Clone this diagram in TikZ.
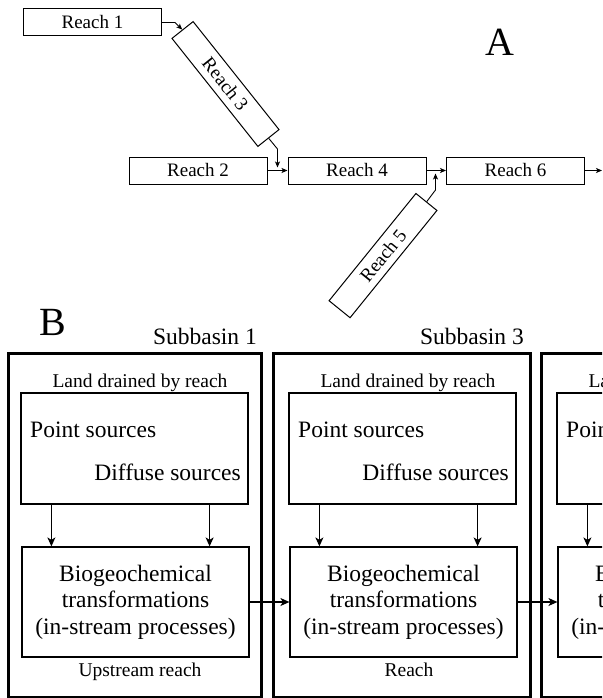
\documentclass[tikz,border=0pt]{standalone}
\usepackage{fontspec}
\setmainfont{Liberation Serif}
\usetikzlibrary{arrows.meta}
\begin{document}
\begin{tikzpicture}[x=1pt,y=-1pt,
  reachbox/.style={draw,line width=1pt,minimum width=138pt,minimum height=27pt,inner sep=0pt,font=\fontsize{19}{21}\selectfont},
  arrA/.style={line width=0.9pt,-{Stealth[length=6pt,width=5pt,inset=1.5pt]}},
  outerbox/.style={draw,line width=3pt,inner sep=0pt,minimum height=344pt},
  innerbox/.style={draw,line width=1.2pt,inner sep=0pt,minimum width=227pt},
  arrB/.style={line width=1.2pt,-{Stealth[length=9pt,width=8pt,inset=2.5pt]}},
  bigtxt/.style={font=\fontsize{23.5}{26.5}\selectfont,inner sep=0pt},
  smalltxt/.style={font=\fontsize{19.5}{22}\selectfont,inner sep=0pt},
  hugetxt/.style={font=\fontsize{40}{44}\selectfont,inner sep=0pt}]
\useasboundingbox (0,0) rectangle (602,698);
\clip (0,0) rectangle (602,698);

% ---------- Part A ----------
\node[hugetxt,anchor=base] (labA) at (500,56) {A};
\node[reachbox] (r1) at (92.5,22.5) {Reach 1};
\node[reachbox] (r2) at (198,170.5) {Reach 2};
\node[reachbox] (r4) at (357,170.5) {Reach 4};
\node[reachbox] (r6) at (515.5,170.5) {Reach 6};
\node[reachbox,rotate=-51.5] (r3) at (225.5,84) {Reach 3};
\node[reachbox,rotate=51] (r5) at (383,255.6) {Reach 5};

\coordinate (j1a) at (175,22.5);
\coordinate (j3a) at (277.5,149);
\coordinate (j3b) at (277.5,167.5);
\coordinate (j5a) at (435.5,190);
\coordinate (j5b) at (435.5,173.5);
\coordinate (outA) at (602,170.5);

\draw[arrA] (r1.east) -- (j1a) -- (r3.west);
\draw[arrA] (r3.east) -- (j3a) -- (j3b);
\draw[arrA] (r2.east) -- (r4.west);
\draw[arrA] (r4.east) -- (r6.west);
\draw[arrA] (r5.east) -- (j5a) -- (j5b);
\draw[arrA] (r6.east) -- (outA);

% ---------- Part B ----------
\node[hugetxt,anchor=base] (labB) at (53,335) {B};
\node[bigtxt,anchor=base east] (sub1) at (257,344) {Subbasin 1};
\node[bigtxt,anchor=base east] (sub3) at (524,344.5) {Subbasin 3};

\node[outerbox,minimum width=252.5pt] (sb1) at (134.75,525) {};
\node[outerbox,minimum width=257pt] (sb2) at (401.5,525) {};
\node[outerbox,minimum width=257pt] (sb3) at (669.5,525) {};

\node[smalltxt,anchor=base] (land1) at (140,387.7) {Land drained by reach};
\node[smalltxt,anchor=base] (land2) at (408,387.7) {Land drained by reach};
\node[smalltxt,anchor=base] (land3) at (676,387.7) {Land drained by reach};

\node[innerbox,minimum height=111pt] (top1) at (134.5,448.5) {};
\node[innerbox,minimum height=111pt] (top2) at (402.5,448.5) {};
\node[innerbox,minimum height=111pt] (top3) at (670.5,448.5) {};

\node[bigtxt,anchor=base west] (ps1) at (30,437.7) {Point sources};
\node[bigtxt,anchor=base west] (ps2) at (298,437.7) {Point sources};
\node[bigtxt,anchor=base west] (ps3) at (566,437.7) {Point sources};
\node[bigtxt,anchor=base east] (ds1) at (241,480) {Diffuse sources};
\node[bigtxt,anchor=base east] (ds2) at (509,480) {Diffuse sources};

\node[innerbox,bigtxt,align=center,minimum height=110pt] (bio1) at (135.5,602) {Biogeochemical\\transformations\\(in-stream processes)};
\node[innerbox,bigtxt,align=center,minimum height=110pt] (bio2) at (403.5,602) {Biogeochemical\\transformations\\(in-stream processes)};
\node[innerbox,bigtxt,align=center,minimum height=110pt] (bio3) at (671.5,602) {Biogeochemical\\transformations\\(in-stream processes)};

\node[smalltxt,anchor=base] (up1) at (140,676.7) {Upstream reach};
\node[smalltxt,anchor=base] (rch2) at (409,676.7) {Reach};

\draw[arrB] ([xshift=31pt]top1.south west) -- ([xshift=31pt]top1.south west |- bio1.north);
\draw[arrB] ([xshift=-39pt]top1.south east) -- ([xshift=-39pt]top1.south east |- bio1.north);
\draw[arrB] ([xshift=31pt]top2.south west) -- ([xshift=31pt]top2.south west |- bio2.north);
\draw[arrB] ([xshift=-39pt]top2.south east) -- ([xshift=-39pt]top2.south east |- bio2.north);
\draw[arrB] ([xshift=31pt]top3.south west) -- ([xshift=31pt]top3.south west |- bio3.north);

\draw[arrB] (bio1.east) -- (bio2.west);
\draw[arrB] (bio2.east) -- (bio3.west);
\end{tikzpicture}
\end{document}
